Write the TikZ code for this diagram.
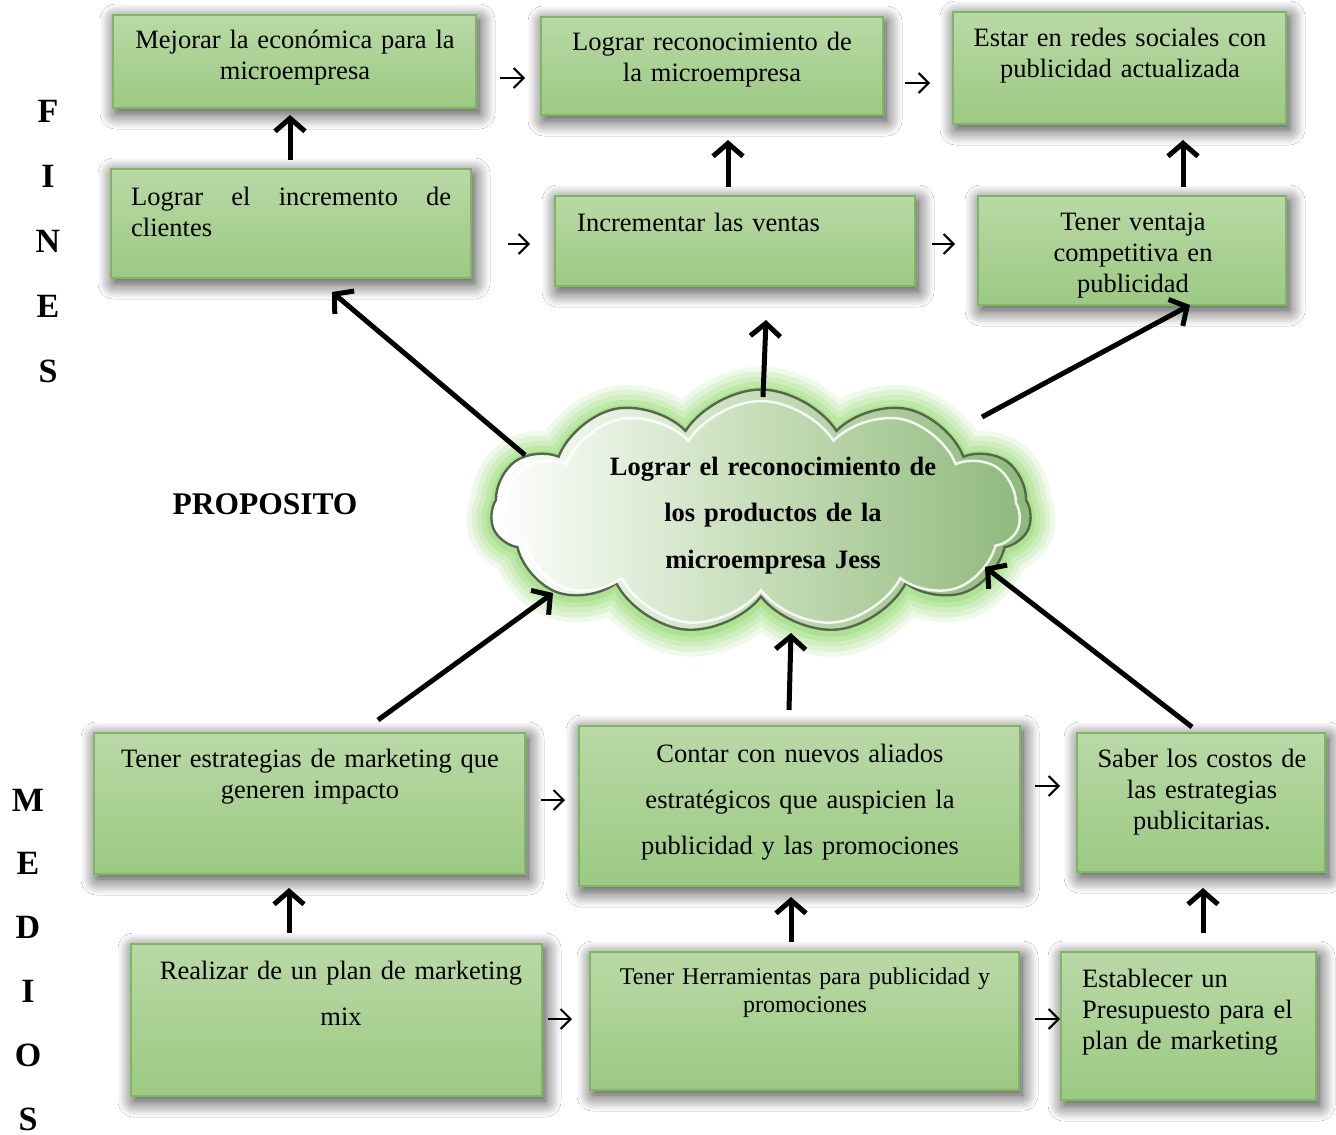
\documentclass[tikz,border=0pt]{standalone}
\usepackage{fontspec}
\setmainfont{Liberation Serif}
\usetikzlibrary{arrows.meta,shapes.symbols,shadows.blur}
\definecolor{boxtop}{HTML}{B9D9A6}
\definecolor{boxbot}{HTML}{9CC983}
\definecolor{boxline}{HTML}{7DB75F}
\definecolor{glowgreen}{HTML}{7CD452}
\definecolor{cloudmid}{HTML}{C6DDB8}
\definecolor{cloudgreen}{HTML}{8DB87A}
\definecolor{cloudline}{HTML}{56664C}
\newcommand\bodyfont{\fontsize{26.5pt}{31pt}\selectfont}
\begin{document}
\begin{tikzpicture}[x=1pt,y=-1pt,
  boxstyle/.style={rectangle, draw=boxline, line width=1.3pt, top color=boxtop, bottom color=boxbot,
    inner sep=0pt, outer sep=0pt,
    blur shadow={shadow xshift=3pt,shadow yshift=-5pt,shadow blur radius=16pt,shadow opacity=80,shadow blur steps=14}},
  txt/.style={inner sep=0pt, font=\bodyfont, align=center, anchor=base},
  bigarrow/.style={line width=5pt, -{Straight Barb[length=13pt,width=30pt]}},
  smallarrow/.style={line width=2pt, -{Straight Barb[length=10pt,width=20pt]}},
  cloudshape/.style={cloud, cloud puffs=11, cloud puff arc=115, aspect=2.15, cloud ignores aspect,
    minimum width=540pt, minimum height=245pt, inner sep=0pt},
  lettercol/.style={inner sep=0pt, anchor=base, align=center, text width=50pt}
]
\fill[white] (0,0) rectangle (1336,1135);
\useasboundingbox (0,0) rectangle (1336,1135);

% boxes
\node[boxstyle, minimum width=363pt, minimum height=93pt]  (b1)  at (294.5,61.5) {};
\node[boxstyle, minimum width=342pt, minimum height=98pt]  (b2)  at (712,66) {};
\node[boxstyle, minimum width=333pt, minimum height=112pt] (b3)  at (1119.5,68) {};
\node[boxstyle, minimum width=360pt, minimum height=109pt] (b4)  at (291,223.5) {};
\node[boxstyle, minimum width=360pt, minimum height=90pt]  (b5)  at (735,241) {};
\node[boxstyle, minimum width=308pt, minimum height=109pt] (b6)  at (1132,250.5) {};
\node[boxstyle, minimum width=431pt, minimum height=141pt] (b7)  at (309.5,803.5) {};
\node[boxstyle, minimum width=441pt, minimum height=160pt] (b8)  at (799.5,806) {};
\node[boxstyle, minimum width=248pt, minimum height=139pt] (b9)  at (1201,802.5) {};
\node[boxstyle, minimum width=411pt, minimum height=152pt] (b10) at (336.5,1020) {};
\node[boxstyle, minimum width=429pt, minimum height=138pt] (b11) at (804.5,1021) {};
\node[boxstyle, minimum width=255pt, minimum height=148pt] (b12) at (1188.5,1026) {};

% box texts
\node[txt, text width=360pt] (t1) at (295,48) {Mejorar la económica para la\\microempresa};
\node[txt, text width=340pt] (t2) at (712,50) {Lograr reconocimiento de\\la microempresa};
\node[txt, text width=330pt] (t3) at (1120,46) {Estar en redes sociales con\\publicidad actualizada};
\node[txt, text width=320pt, align=left, anchor=base west] (t4) at (131,205) {Lograr\hfill el\hfill incremento\hfill de\\clientes};
\node[txt, text width=330pt, align=left, anchor=base west] (t5) at (577,231) {Incrementar las ventas};
\node[txt, text width=300pt] (t6) at (1133,230) {Tener ventaja\\competitiva en\\publicidad};
\node[txt, text width=430pt] (t7) at (310,767) {Tener estrategias de marketing que\\generen impacto};
\node[txt, text width=440pt, font=\fontsize{26.5pt}{46pt}\selectfont] (t8) at (800,762) {Contar con nuevos aliados\\estratégicos que auspicien la\\publicidad y las promociones};
\node[txt, text width=245pt] (t9) at (1202,767) {Saber los costos de\\las estrategias\\publicitarias.};
\node[txt, text width=410pt, font=\fontsize{26.5pt}{46pt}\selectfont] (t10) at (341,979) {Realizar de un plan de marketing\\mix};
\node[txt, text width=425pt, font=\fontsize{24pt}{28pt}\selectfont] (t11) at (805,984) {Tener Herramientas para publicidad y\\promociones};
\node[txt, text width=240pt, align=left, anchor=base west] (t12) at (1082,987) {Establecer un\\Presupuesto para el\\plan de marketing};

% side labels
\node[lettercol, font=\bfseries\fontsize{34pt}{65pt}\selectfont] (fines) at (48,122) {F\\I\\N\\E\\S};
\node[lettercol, font=\bfseries\fontsize{34pt}{63.8pt}\selectfont] (medios) at (28,811) {M\\E\\D\\I\\O\\S};
\node[txt, text width=260pt, font=\bfseries\fontsize{31.5pt}{36pt}\selectfont] (prop) at (265,514) {PROPOSITO};

% cloud glow
\foreach \w/\o in {50/0.12, 40/0.14, 30/0.16, 20/0.2, 10/0.25}
  \node[cloudshape, draw=glowgreen, line width=\w pt, draw opacity=\o] (glow\w) at (761,514) {};
% cloud
\node[cloudshape, draw=cloudline, line width=2.4pt, left color=white, right color=cloudgreen, middle color=cloudmid] (cloud) at (761,512) {};
\node[cloudshape, minimum width=518pt, minimum height=226pt, draw=white, line width=2.5pt, draw opacity=0.85] (cloudhl) at (761,514) {};
\node[txt, text width=420pt, font=\bfseries\fontsize{26.5pt}{46.5pt}\selectfont] (ct) at (773,475) {Lograr el reconocimiento de\\los productos de la\\microempresa Jess};

% small arrows
\draw[smallarrow] ([xshift=24pt,yshift=-16.5pt]b1.east) -- ([xshift=-16pt,yshift=-12pt]b2.west);
\draw[smallarrow] ([xshift=22pt,yshift=-17pt]b2.east) -- ([xshift=-23pt,yshift=-15pt]b3.west);
\draw[smallarrow] ([xshift=37pt,yshift=-20.5pt]b4.east) -- ([xshift=-25pt,yshift=-3pt]b5.west);
\draw[smallarrow] ([xshift=17pt,yshift=-3pt]b5.east) -- ([xshift=-23pt,yshift=6.5pt]b6.west);
\draw[smallarrow] ([xshift=16pt,yshift=3.5pt]b7.east) -- ([xshift=-14pt,yshift=6pt]b8.west);
\draw[smallarrow] ([xshift=15pt,yshift=20pt]b8.east) -- ([xshift=-17pt,yshift=16.5pt]b9.west);
\draw[smallarrow] ([xshift=6pt,yshift=1pt]b10.east) -- ([xshift=-18pt,yshift=2pt]b11.west);
\draw[smallarrow] ([xshift=16pt,yshift=2pt]b11.east) -- ([xshift=-1pt,yshift=7pt]b12.west);

% big vertical arrows
\draw[bigarrow] ([xshift=-1pt,yshift=9pt]b4.north) -- ([xshift=-4.5pt,yshift=-7pt]b1.south);
\draw[bigarrow] ([xshift=-7pt,yshift=9pt]b5.north) -- ([xshift=16pt,yshift=-25pt]b2.south);
\draw[bigarrow] ([xshift=51pt,yshift=9pt]b6.north) -- ([xshift=63.5pt,yshift=-16pt]b3.south);
\draw[bigarrow] ([xshift=-47.5pt,yshift=11pt]b10.north) -- ([xshift=-20.5pt,yshift=-14pt]b7.south);
\draw[bigarrow] ([xshift=-13.5pt,yshift=10pt]b11.north) -- ([xshift=-8.5pt,yshift=-11pt]b8.south);
\draw[bigarrow] ([xshift=14.5pt,yshift=19pt]b12.north) -- ([xshift=2pt,yshift=-16pt]b9.south);

% big diagonal arrows
\draw[bigarrow] ([xshift=-236pt,yshift=57pt]cloud.center) -- ([xshift=41pt,yshift=-14pt]b4.south);
\draw[bigarrow] ([xshift=2pt,yshift=115pt]cloud.center) -- ([xshift=31pt,yshift=-34pt]b5.south);
\draw[bigarrow] ([xshift=221pt,yshift=95pt]cloud.center) -- ([xshift=58pt,yshift=0pt]b6.south);
\draw[bigarrow] ([xshift=68.5pt,yshift=13pt]b7.north) -- ([xshift=-208pt,yshift=-81pt]cloud.center);
\draw[bigarrow] ([xshift=-10.5pt,yshift=16pt]b8.north) -- ([xshift=30pt,yshift=-121pt]cloud.center);
\draw[bigarrow] ([xshift=-9pt,yshift=6pt]b9.north) -- ([xshift=224pt,yshift=-55pt]cloud.center);
\end{tikzpicture}
\end{document}
